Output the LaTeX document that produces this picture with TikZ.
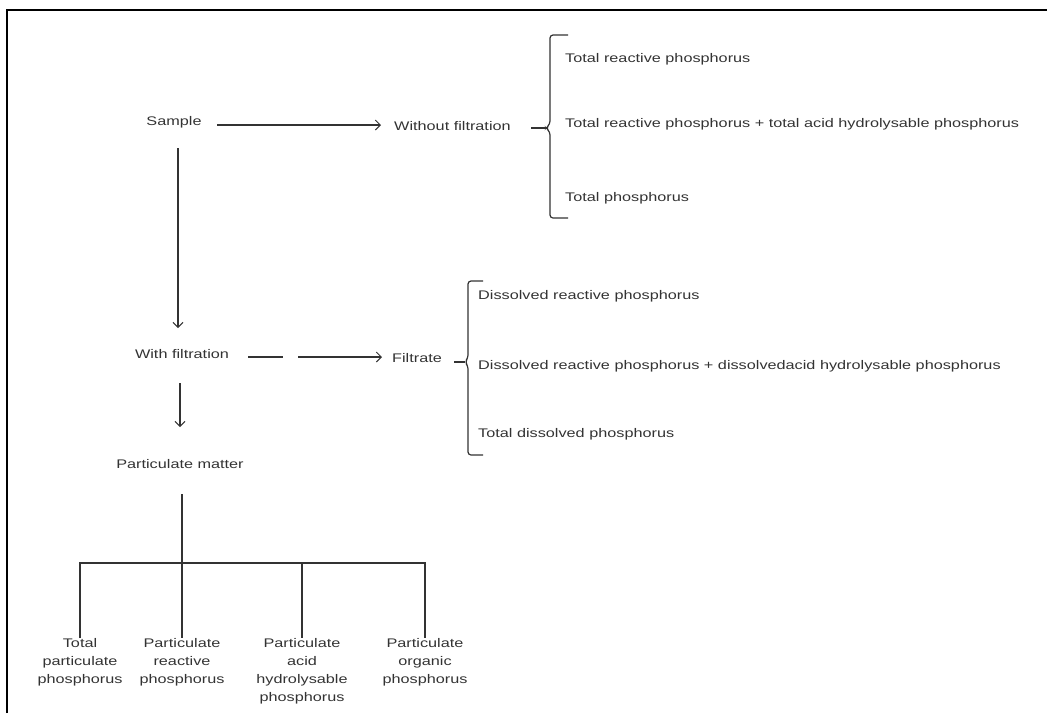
\documentclass[tikz,border=0pt]{standalone}
\usepackage{fontspec}
\setmainfont{Liberation Sans}[FakeStretch=1.3]
\usetikzlibrary{arrows.meta}
\definecolor{txt}{HTML}{333333}
\definecolor{lncol}{HTML}{333333}
\begin{document}
\begin{tikzpicture}[x=1pt,y=-1pt,
  lbl/.style={inner sep=0pt, text=txt, font=\fontsize{12.5}{18}\selectfont},
  item/.style={lbl, anchor=west},
  leaf/.style={lbl, anchor=north, align=center},
  ln/.style={draw=lncol, line width=1.2pt},
  tree/.style={draw=lncol, line width=1.8pt},
  arr/.style={ln, -{Straight Barb[length=5pt,width=10pt,line width=1pt]}},
  brace/.style={draw=lncol, line width=1.2pt, rounded corners=3pt}]
\useasboundingbox (0,0) rectangle (1047,713);
\draw[line width=2pt] (7,713) -- (7,10) -- (1047,10);

% nodes
\node[lbl] (sample) at (174,122) {Sample};
\node[lbl, anchor=west] (wof) at (394,126) {Without filtration};
\node[lbl] (wf) at (182,354) {With filtration};
\node[lbl, anchor=west] (filt) at (392,358) {Filtrate};
\node[lbl] (pm) at (180,464) {Particulate matter};

\node[item] (t1) at (565,59) {Total reactive phosphorus};
\node[item] (t2) at (565,124) {Total reactive phosphorus + total acid hydrolysable phosphorus};
\node[item] (t3) at (565,198) {Total phosphorus};

\node[item] (d1) at (478,296) {Dissolved reactive phosphorus};
\node[item] (d2) at (478,366) {Dissolved reactive phosphorus + dissolvedacid hydrolysable phosphorus};
\node[item] (d3) at (478,434) {Total dissolved phosphorus};

\node[leaf] (l1) at (80,638) {Total\\particulate\\phosphorus};
\node[leaf] (l2) at (182,638) {Particulate\\reactive\\phosphorus};
\node[leaf] (l3) at (302,638) {Particulate\\acid\\hydrolysable\\phosphorus};
\node[leaf] (l4) at (425,638) {Particulate\\organic\\phosphorus};

% arrow ends
\coordinate (s1) at (217,125);
\coordinate (s2) at (381,125);
\coordinate (v1) at (178,148);
\coordinate (v2) at (178,328);
\coordinate (f1) at (248,357);
\coordinate (f2) at (382,357);
\coordinate (p1) at (180,383);
\coordinate (p2) at (180,427);

\draw[arr] (s1) -- (s2);
\draw[arr] (v1) -- (v2);
\draw[arr, dash pattern=on 35pt off 15pt on 400pt] (f1) -- (f2);
\draw[arr] (p1) -- (p2);

% brace 1
\coordinate (c1) at (531,128);
\coordinate (b1) at (546,128);
\draw[ln] (c1) -- (b1);
\draw[brace] (568,35) -- (550,35) -- (550,124) -- (b1) -- (550,132) -- (550,218) -- (568,218);

% brace 2
\coordinate (c2) at (454,362);
\coordinate (b2) at (465,362);
\draw[ln] (c2) -- (b2);
\draw[brace] (483,281) -- (468,281) -- (468,358) -- (b2) -- (468,366) -- (468,455) -- (483,455);

% tree
\coordinate (top) at (182,494);
\coordinate (bar) at (182,563);
\draw[tree] (top) -- (l2.north);
\draw[tree] (l1.north) -- (l1.north |- bar) -- (l4.north |- bar) -- (l4.north);
\draw[tree] (l3.north |- bar) -- (l3.north);
\end{tikzpicture}
\end{document}
